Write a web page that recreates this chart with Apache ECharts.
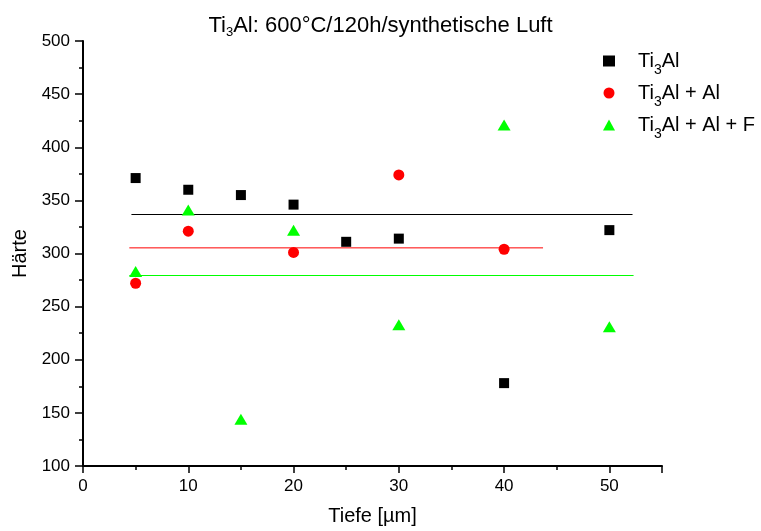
<!DOCTYPE html>
<html>
<head>
<meta charset="utf-8">
<script src="https://cdn.jsdelivr.net/npm/echarts@6/dist/echarts.min.js"></script>
<style>html,body{margin:0;padding:0;background:#fff}#c{width:761px;height:531px}</style>
</head>
<body>
<div id="c"></div>
<script>
// Ti3Al
const depthA = [5, 10, 15, 20, 25, 30, 40, 50];
const hardA = [371, 360, 355, 346, 311, 314, 178, 322];
// Ti3Al + Al
const depthB = [5, 10, 20, 30, 40];
const hardB = [272, 321, 301, 374, 304];
// Ti3Al + Al + F
const depthC = [5, 10, 15, 20, 30, 40, 50];
const hardC = [283, 341, 144, 322, 233, 421, 231];
// horizontal level lines (start x, end x, value)
const lineA = [4.6, 52.2, 336.7];
const lineB = [4.4, 43.7, 305.3];
const lineC = [4.4, 52.3, 279.3];
const seriesNames = ['Ti3Al', 'Ti3Al + Al', 'Ti3Al + Al + F'];

const FONT = 'Liberation Sans, Arial, sans-serif';
const zip = (xs, ys) => xs.map((x, i) => [x, ys[i]]);
const seg = l => [[l[0], l[2]], [l[1], l[2]]];
const subFmt = s => s.replace('3', '{s|3}');

const chart = echarts.init(document.getElementById('c'), null, {renderer: 'canvas'});
chart.setOption({
  animation: false,
  backgroundColor: '#fff',
  title: {
    text: subFmt('Ti3Al: 600°C/120h/synthetische Luft'),
    left: 'center',
    top: 8,
    textStyle: {
      fontFamily: FONT, fontSize: 22, fontWeight: 'normal', color: '#000', lineHeight: 26,
      rich: {s: {fontFamily: FONT, fontSize: 13, color: '#000', lineHeight: 10, verticalAlign: 'bottom'}}
    }
  },
  legend: {
    data: [
      {name: seriesNames[0], icon: 'rect', itemStyle: {color: '#000000'}},
      {name: seriesNames[1], icon: 'circle', itemStyle: {color: '#ff0000'}},
      {name: seriesNames[2], icon: 'triangle', itemStyle: {color: '#00ff00'}}
    ],
    orient: 'vertical',
    left: 603,
    top: 45,
    padding: 0,
    itemGap: 0,
    itemWidth: 12,
    itemHeight: 11,
    formatter: subFmt,
    textStyle: {
      fontFamily: FONT, fontSize: 20, color: '#000', lineHeight: 32, padding: [0, 0, 0, 18],
      rich: {s: {fontFamily: FONT, fontSize: 14, color: '#000', lineHeight: 12, verticalAlign: 'bottom'}}
    }
  },
  grid: {left: 83, right: 99, top: 41, bottom: 65, containLabel: false},
  xAxis: {
    type: 'value', min: 0, max: 55, interval: 10,
    name: 'Tiefe [µm]', nameLocation: 'middle', nameGap: 40,
    nameTextStyle: {fontFamily: FONT, fontSize: 20, color: '#000'},
    axisLine: {show: true, lineStyle: {color: '#000', width: 2}},
    axisTick: {show: true, inside: false, length: 7, lineStyle: {color: '#000', width: 1.5}},
    minorTick: {show: true, splitNumber: 2, length: 4, lineStyle: {color: '#000', width: 1.5}},
    axisLabel: {fontFamily: FONT, fontSize: 17, color: '#000', margin: 12,
      formatter: v => (v % 10 === 0 ? String(v) : '')},
    splitLine: {show: false}
  },
  yAxis: {
    type: 'value', min: 100, max: 500, interval: 50,
    name: 'Härte', nameLocation: 'middle', nameGap: 52,
    nameTextStyle: {fontFamily: FONT, fontSize: 20, color: '#000'},
    axisLine: {show: true, lineStyle: {color: '#000', width: 2}},
    axisTick: {show: true, inside: false, length: 8, lineStyle: {color: '#000', width: 1.5}},
    minorTick: {show: true, splitNumber: 2, length: 4, lineStyle: {color: '#000', width: 1.5}},
    axisLabel: {fontFamily: FONT, fontSize: 17, color: '#000', margin: 13},
    splitLine: {show: false}
  },
  series: [
    {name: seriesNames[0], type: 'scatter', symbol: 'rect', symbolSize: 10,
     itemStyle: {color: '#000000', opacity: 1}, data: zip(depthA, hardA), z: 5},
    {name: seriesNames[1], type: 'scatter', symbol: 'circle', symbolSize: 11,
     itemStyle: {color: '#ff0000', opacity: 1}, data: zip(depthB, hardB), z: 5},
    {name: seriesNames[2], type: 'scatter', symbol: 'triangle', symbolSize: [13, 11],
     itemStyle: {color: '#00ff00', opacity: 1}, data: zip(depthC, hardC), z: 5},
    {name: 'lineA', type: 'line', data: seg(lineA), symbol: 'none', silent: true,
     itemStyle: {color: '#000000'}, lineStyle: {color: '#000000', width: 1}, z: 3},
    {name: 'lineB', type: 'line', data: seg(lineB), symbol: 'none', silent: true,
     itemStyle: {color: '#ff0000'}, lineStyle: {color: '#ff0000', width: 1}, z: 3},
    {name: 'lineC', type: 'line', data: seg(lineC), symbol: 'none', silent: true,
     itemStyle: {color: '#00ff00'}, lineStyle: {color: '#00ff00', width: 1.2}, z: 3}
  ]
});
</script>
</body>
</html>
